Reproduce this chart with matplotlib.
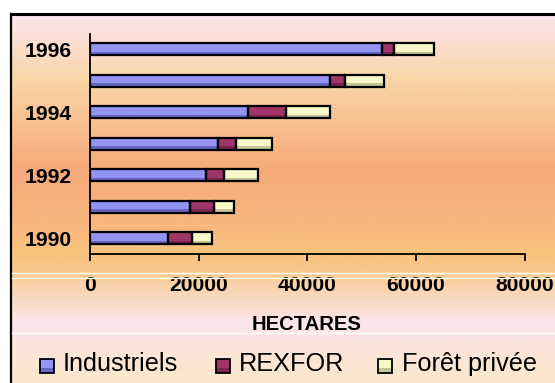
import numpy as np
import matplotlib
matplotlib.use("Agg")
import matplotlib.pyplot as plt
from matplotlib.colors import LinearSegmentedColormap
from matplotlib.patches import Rectangle
from matplotlib.lines import Line2D

plt.rcParams['font.family'] = ['Liberation Sans', 'DejaVu Sans']

# Reforestation areas (hectares) per year and contributor
years = [1990, 1991, 1992, 1993, 1994, 1995, 1996]
year_labels = ["1990", "", "1992", "", "1994", "", "1996"]
industriels = [14350, 18400, 21340, 23550, 29020, 44100, 53730]
rexfor = [4420, 4410, 3310, 3310, 7050, 2900, 2150]
foret_privee = [3680, 3690, 6260, 6630, 8030, 7090, 7410]
series_names = ["Industriels", "REXFOR", "Forêt privée"]
x_ticks = [0, 20000, 40000, 60000, 80000]

light = ["#9494f4", "#a0356a", "#f8f8c8"]
dark = ["#6666c4", "#7a2450", "#c4c498"]

W, H = 555, 383
fig = plt.figure(figsize=(W / 100, H / 100), dpi=100)
fig.patch.set_facecolor("white")

# Gradient panel background inside the frame
fx0, fy0 = 11, 14
bg = fig.add_axes([fx0 / W, 0, 1 - fx0 / W, 1 - fy0 / H])
bg.set_axis_off()
stops = [(14, "#fce6ee"), (45, "#fbddcc"), (80, "#f9d5a5"), (120, "#f9c292"),
         (170, "#f7a97b"), (215, "#f8b47c"), (255, "#f8c47e"), (272, "#f8c88c"),
         (285, "#f9d2ab"), (305, "#fadcc8"), (325, "#fbe6ef"), (345, "#fbe4dc"),
         (383, "#fae8cc")]
pos = [(s[0] - 14) / (383 - 14) for s in stops]
cmap = LinearSegmentedColormap.from_list("panel", list(zip(pos, [s[1] for s in stops])))
grad = np.linspace(0, 1, 400).reshape(-1, 1)
bg.imshow(grad, aspect="auto", cmap=cmap, extent=[0, 1, 0, 1], origin="upper")
bg.set_xlim(0, 1)
bg.set_ylim(0, 1)

# Frame and thin white rules
fig.add_artist(Line2D([fx0 / W, fx0 / W], [0, 1 - fy0 / H], color="black", lw=1.6))
fig.add_artist(Line2D([fx0 / W, 1], [1 - fy0 / H, 1 - fy0 / H], color="black", lw=2.2))
for yy in (273, 278, 333):
    fig.add_artist(Line2D([(fx0 + 1) / W, 1], [1 - yy / H, 1 - yy / H], color="white", lw=1.0))

# Main plot area
ax_l, ax_r, ax_b, ax_t = 90.3, 524.6, 254, 33.5
ax = fig.add_axes([ax_l / W, 1 - ax_b / H, (ax_r - ax_l) / W, (ax_b - ax_t) / H])
ax.set_facecolor("none")

ypos = np.arange(len(years))
h = 0.38
left = np.zeros(len(years))
for vals, lc, dc in zip([industriels, rexfor, foret_privee], light, dark):
    vals = np.array(vals, dtype=float)
    ax.barh(ypos, vals, height=h, left=left, color=lc, edgecolor="none", zorder=3)
    # shading bands for a bevelled look
    ax.barh(ypos - h / 2 + 0.14 * h, vals, height=0.28 * h, left=left, color=dc,
            edgecolor="none", zorder=3.5)
    ax.barh(ypos + h / 2 - 0.05 * h, vals, height=0.1 * h, left=left, color=dc,
            edgecolor="none", zorder=3.5)
    ax.barh(ypos, vals, height=h, left=left, color="none", edgecolor="black",
            linewidth=1.6, zorder=4)
    left += vals

ax.set_xlim(0, 80000)
ax.set_ylim(-0.5, 6.5)
ax.set_xticks(x_ticks)
ax.set_xticklabels([str(v) for v in x_ticks], fontsize=15.2, fontweight="bold")
ax.set_yticks(ypos)
ax.set_yticklabels(year_labels, fontsize=15.2, fontweight="bold")
ax.tick_params(axis="x", direction="out", length=5, width=1.3, pad=10.5)
ax.tick_params(axis="y", length=0, pad=13)
for s in ("top", "right"):
    ax.spines[s].set_visible(False)
for s in ("left", "bottom"):
    ax.spines[s].set_linewidth(1.3)

fig.text(307 / W, 1 - 325 / H, "HECTARES", ha="center", va="center",
         fontsize=14.6, fontweight="bold")

# Legend drawn along the bottom of the panel
sq = 14
for name, lc, dc, sx, tx in zip(series_names, light, dark, [40, 216, 378], [63, 239, 402]):
    sy = 359
    fig.add_artist(Rectangle((sx / W, 1 - (sy + sq) / H), sq / W, sq / H,
                             facecolor=lc, edgecolor="none", transform=fig.transFigure))
    fig.add_artist(Rectangle((sx / W, 1 - (sy + sq) / H), sq / W, 0.35 * sq / H,
                             facecolor=dc, edgecolor="none", transform=fig.transFigure))
    fig.add_artist(Rectangle((sx / W, 1 - (sy + sq) / H), sq / W, sq / H,
                             facecolor="none", edgecolor="black", lw=1.3,
                             transform=fig.transFigure))
    fig.text(tx / W, 1 - 364 / H, name, ha="left", va="center", fontsize=18.2)

fig.savefig("out.png", dpi=100)
